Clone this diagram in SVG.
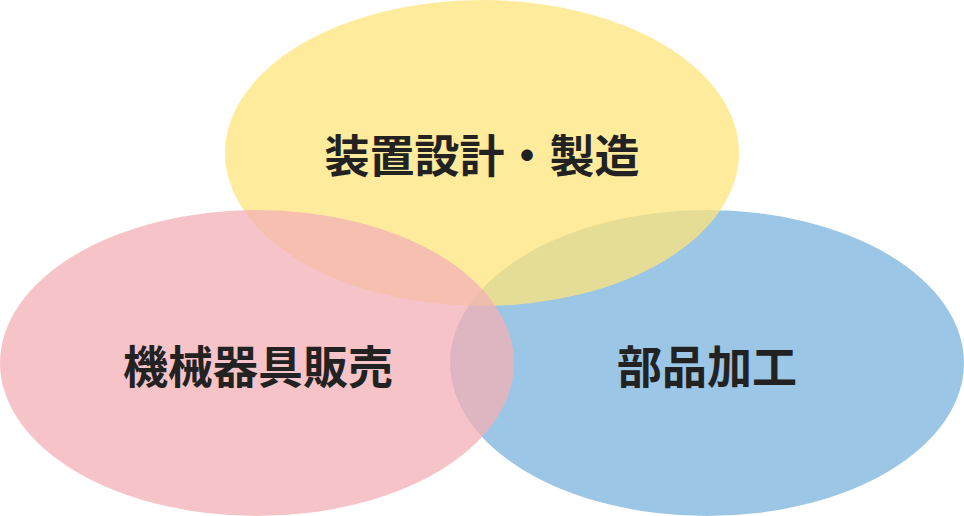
<svg xmlns="http://www.w3.org/2000/svg" width="964" height="516" viewBox="0 0 964 516">
<style>
.e{opacity:0.75}
.t{font-family:"Noto Sans CJK JP",sans-serif;font-weight:bold;font-size:45px;fill:#222;text-anchor:middle}
</style>
<rect width="964" height="516" fill="#fff"/>
<g id="node-blue"><ellipse class="e" cx="707" cy="363" rx="257" ry="153" fill="#7ab3dc"/></g>
<g id="node-yellow"><ellipse class="e" cx="482" cy="153" rx="257" ry="153" fill="#fde47a"/></g>
<g id="node-pink"><ellipse class="e" cx="257" cy="363" rx="257" ry="153" fill="#f3b0b5"/></g>
<text class="t" x="482" y="173">装置設計・製造</text>
<text class="t" x="258" y="384">機械器具販売</text>
<text class="t" x="707" y="384">部品加工</text>
<g id="connectors"/>
</svg>
